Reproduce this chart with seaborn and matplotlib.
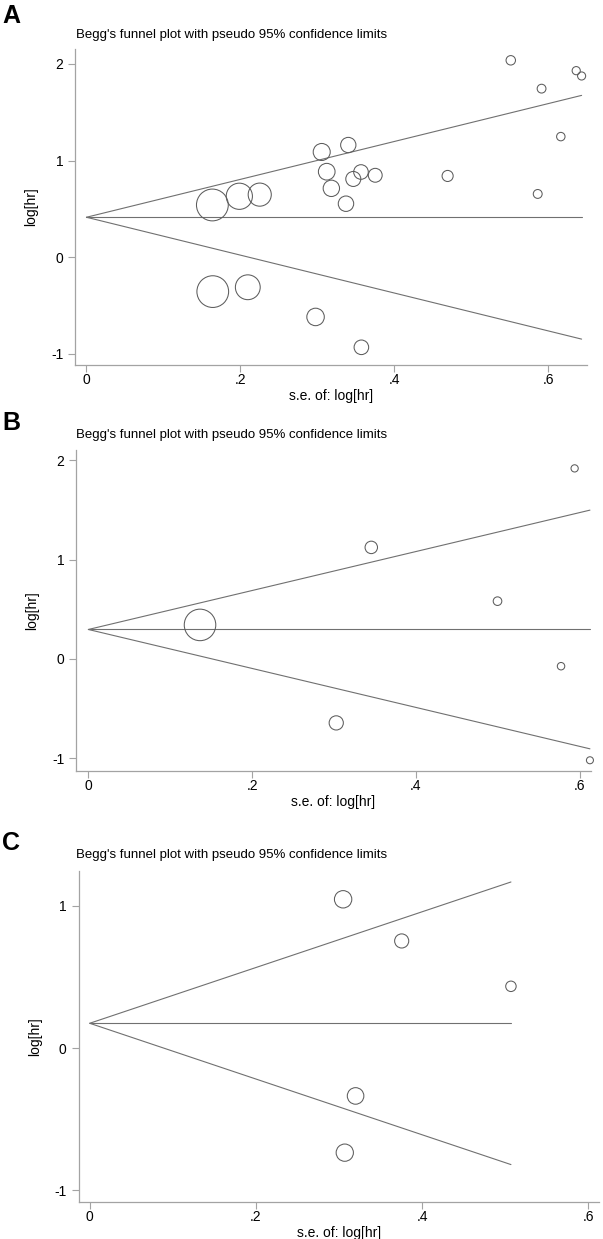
import pandas as pd
import matplotlib
matplotlib.use("Agg")
import matplotlib.pyplot as plt
import seaborn as sns

# panel A: standard error and log hazard ratio of each study
se_a = [0.551, 0.636, 0.643, 0.591, 0.616, 0.586, 0.469, 0.375, 0.3565, 0.3465, 0.340,
        0.3055, 0.312, 0.318, 0.337, 0.225, 0.1985, 0.1635, 0.164, 0.2095, 0.2975, 0.357]
loghr_a = [2.037, 1.93, 1.875, 1.744, 1.248, 0.655, 0.841, 0.848, 0.882, 0.81, 1.161,
           1.089, 0.885, 0.713, 0.554, 0.648, 0.631, 0.541, -0.355, -0.31, -0.617, -0.931]
theta_a = 0.414

# panel B
se_b = [0.594, 0.3456, 0.4998, 0.1364, 0.5774, 0.3028, 0.6127]
loghr_b = [1.917, 1.122, 0.581, 0.342, -0.0735, -0.644, -1.02]
theta_b = 0.296

# panel C
se_c = [0.305, 0.3755, 0.507, 0.32, 0.307]
loghr_c = [1.046, 0.753, 0.434, -0.337, -0.736]
theta_c = 0.174

title = "Begg's funnel plot with pseudo 95% confidence limits"
xticks = [0, 0.2, 0.4, 0.6]
xtick_labels = ["0", ".2", ".4", ".6"]

sns.set_theme(style="white")
plt.rcParams["font.family"] = ["Liberation Sans", "DejaVu Sans"]
plt.rcParams["text.color"] = "black"
plt.rcParams["axes.labelcolor"] = "black"

W, H = 603, 1239
fig = plt.figure(figsize=(W / 100, H / 100), dpi=100)

SPINE = "#a3a3a3"
LINE = "#707070"
MARK = "#5c5c5c"


def box(l, t, r, b):
    return [l / W, 1 - b / H, (r - l) / W, (b - t) / H]


def funnel(rect, se, loghr, theta, xlim, ylim, yticks, k):
    ax = fig.add_axes(rect)
    df = pd.DataFrame({"se": se, "loghr": loghr})
    smax = df["se"].max()
    # pseudo 95% limits and pooled estimate
    sns.lineplot(x=[0, smax], y=[theta, theta], ax=ax, color=LINE, lw=0.8)
    sns.lineplot(x=[0, smax], y=[theta, theta + 1.96 * smax], ax=ax, color=LINE, lw=0.8)
    sns.lineplot(x=[0, smax], y=[theta, theta - 1.96 * smax], ax=ax, color=LINE, lw=0.8)
    # marker diameter proportional to 1/se (weight)
    sizes = (k * 0.72 / df["se"]) ** 2
    sns.scatterplot(data=df, x="se", y="loghr", s=sizes, ax=ax, color=MARK,
                    facecolor="none", edgecolor=MARK, linewidth=0.75, legend=False,
                    zorder=3, clip_on=False)
    ax.set_xlim(*xlim)
    ax.set_ylim(*ylim)
    ax.set_xticks(xticks)
    ax.set_xticklabels(xtick_labels)
    ax.set_yticks(yticks)
    ax.set_yticklabels([str(v) for v in yticks])
    ax.set_xlabel("s.e. of: log[hr]", fontsize=10, labelpad=2)
    ax.set_ylabel("log[hr]", fontsize=10, labelpad=9)
    for s in ["top", "right"]:
        ax.spines[s].set_visible(False)
    for s in ["left", "bottom"]:
        ax.spines[s].set_color(SPINE)
        ax.spines[s].set_linewidth(0.9)
    ax.tick_params(axis="both", which="major", left=True, bottom=True, direction="out",
                   length=5, width=0.8, color=SPINE, labelsize=10, labelcolor="black")
    ax.tick_params(axis="x", pad=0.5)
    ax.tick_params(axis="y", pad=3.5)
    return ax


funnel(box(75, 49, 587, 365), se_a, loghr_a, theta_a,
       (-0.0149, 0.650), (-1.114, 2.154), [-1, 0, 1, 2], 5.2)
funnel(box(76, 450, 591, 771), se_b, loghr_b, theta_b,
       (-0.0151, 0.614), (-1.128, 2.102), [-1, 0, 1, 2], 4.3)
funnel(box(78.5, 871, 599, 1202), se_c, loghr_c, theta_c,
       (-0.0135, 0.613), (-1.083, 1.245), [-1, 0, 1], 5.3)

for letter, ly, ty in [("A", 22.7, 37.7), ("B", 430, 437.7), ("C", 849.5, 858)]:
    fig.text(2 / W, 1 - ly / H, letter, fontsize=18, fontweight="bold", va="baseline",
             ha="left", color="black")
    fig.text(76 / W, 1 - ty / H, title, fontsize=9.5, va="baseline", ha="left", color="black")

fig.savefig("out.png", dpi=100)
